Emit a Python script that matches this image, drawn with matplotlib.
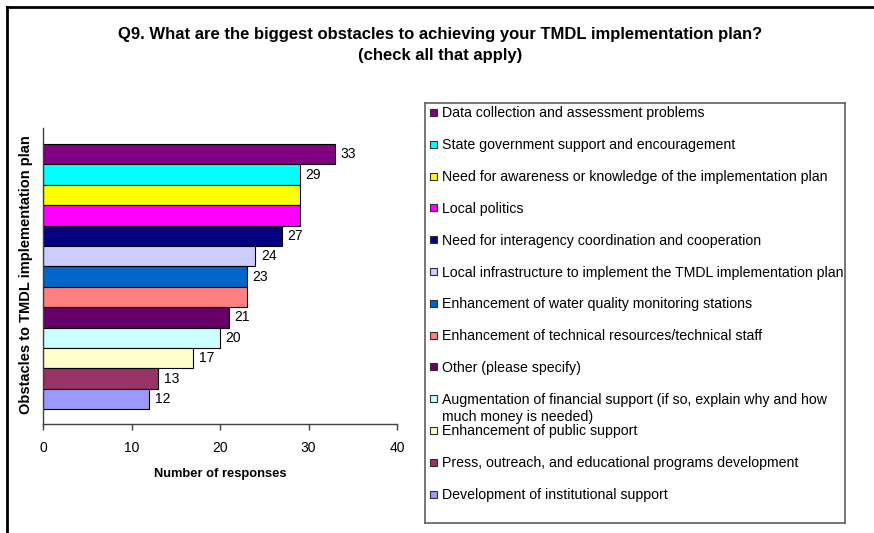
import matplotlib
matplotlib.use("Agg")
import matplotlib.pyplot as plt
from matplotlib.lines import Line2D
from matplotlib.patches import Rectangle

plt.rcParams['font.family'] = ['Liberation Sans', 'DejaVu Sans']

categories = [
    "Data collection and assessment problems",
    "State government support and encouragement",
    "Need for awareness or knowledge of the implementation plan",
    "Local politics",
    "Need for interagency coordination and cooperation",
    "Local infrastructure to implement the TMDL implementation plan",
    "Enhancement of water quality monitoring stations",
    "Enhancement of technical resources/technical staff",
    "Other (please specify)",
    "Augmentation of financial support (if so, explain why and how\nmuch money is needed)",
    "Enhancement of public support",
    "Press, outreach, and educational programs development",
    "Development of institutional support",
]
values = [33, 29, 29, 29, 27, 24, 23, 23, 21, 20, 17, 13, 12]
colors = ["#800080", "#00FFFF", "#FFFF00", "#FF00FF", "#000080", "#CCCCFF",
          "#0066CC", "#FF8080", "#660066", "#CCFFFF", "#FFFFCC", "#993366", "#9999FF"]
xticks = [0, 10, 20, 30, 40]

title = "Q9. What are the biggest obstacles to achieving your TMDL implementation plan?\n(check all that apply)"
xlabel = "Number of responses"
ylabel = "Obstacles to TMDL implementation plan"

W, H = 874, 533
fig = plt.figure(figsize=(W / 100, H / 100), dpi=100)

def fx(px):
    return px / W

def fy(py):
    return 1 - py / H

# Outer frame (top and left visible)
fig.add_artist(Line2D([fx(7), fx(874)], [fy(7), fy(7)], color='black', lw=2, transform=fig.transFigure))
fig.add_artist(Line2D([fx(7), fx(7)], [fy(7), fy(533)], color='black', lw=2, transform=fig.transFigure))

# Title
fig.text(fx(440), fy(45), title, ha='center', va='center', fontsize=12, fontweight='bold',
         linespacing=1.45)

# Main axes
ax = fig.add_axes([fx(43), fy(424), fx(397) - fx(43), fy(128) - fy(424)])
ypos = list(range(len(values)))
ax.barh(ypos, values, height=1.0, color=colors, edgecolor='black', linewidth=0.8)
ax.set_xlim(0, 40)
ax.set_ylim(len(values) - 0.5 + 0.72, -0.5 - 0.78)
ax.set_xticks(xticks)
ax.set_xticklabels([str(t) for t in xticks], fontsize=10)
ax.set_yticks([])
for s in ['top', 'right']:
    ax.spines[s].set_visible(False)
for s in ['left', 'bottom']:
    ax.spines[s].set_color('#404040')
    ax.spines[s].set_linewidth(1.0)
ax.tick_params(axis='x', length=4, width=1, color='#404040', pad=8.5)

for i, v in enumerate(values):
    if i == 0 or v != values[i - 1]:
        ax.annotate(str(v), (v, i), xytext=(4, 0), textcoords='offset points',
                    ha='left', va='center', fontsize=10)

ax.set_xlabel(xlabel, fontsize=9.3, fontweight='bold', labelpad=9)
fig.text(fx(26), fy(275), ylabel, rotation=90, ha='center', va='center',
         fontsize=10.5, fontweight='bold')

# Legend box
lx0, ly0, lx1, ly1 = 425, 103, 845, 523
lax = fig.add_axes([fx(lx0), fy(ly1), fx(lx1) - fx(lx0), fy(ly0) - fy(ly1)])
lax.set_xlim(0, lx1 - lx0)
lax.set_ylim(ly1 - ly0, 0)
lax.set_xticks([])
lax.set_yticks([])
for s in lax.spines.values():
    s.set_color('#606060')
    s.set_linewidth(1.2)

for i, (lab, c) in enumerate(zip(categories, colors)):
    yc = 112 - ly0 + 31.8 * i
    lax.add_patch(Rectangle((5, yc - 3), 7, 7, facecolor=c, edgecolor='#303030', linewidth=0.8))
    lax.text(17, yc - 5.5, lab, ha='left', va='top', fontsize=10.2, linespacing=1.3)

fig.savefig("out.png", dpi=100)
